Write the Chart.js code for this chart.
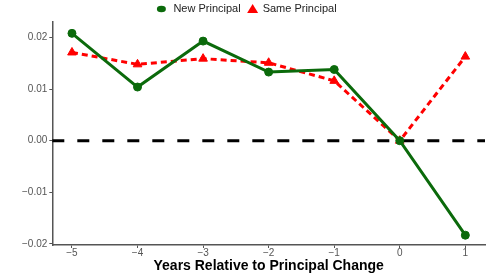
<!DOCTYPE html>
<html>
<head>
<meta charset="utf-8">
<script src="https://cdn.jsdelivr.net/npm/chart.js@4"></script>
<style>
  html, body { margin: 0; padding: 0; background: #fff; }
  #wrap { width: 491px; height: 273px; }
</style>
</head>
<body>
<div id="wrap"><canvas id="chart" width="491" height="273"></canvas></div>
<script>
// data
const years = [-5, -4, -3, -2, -1, 0, 1];
const newPrincipal = [0.0208, 0.0104, 0.0193, 0.0133, 0.0138, 0.0, -0.0183];
const samePrincipal = [0.0171, 0.0148, 0.0159, 0.0151, 0.0116, 0.0, 0.0163];
const xTicks = [-5, -4, -3, -2, -1, 0, 1];
const yTicks = [-0.02, -0.01, 0.0, 0.01, 0.02];

const FONT = 'Liberation Sans, Arial, sans-serif';

const toPoints = (vals) => years.map((x, i) => ({ x: x, y: vals[i] }));
const fmt = (v, d) => {
    const s = Math.abs(v).toFixed(d);
    return v < -1e-9 ? '\u2212' + s : s;
};

// dashed reference line at zero, drawn under the series
const zeroLine = {
    id: 'zeroLine',
    beforeDatasetsDraw(chart) {
        const { ctx, chartArea, scales } = chart;
        const y = scales.y.getPixelForValue(0);
        ctx.save();
        ctx.strokeStyle = '#000';
        ctx.lineWidth = 3;
        ctx.setLineDash([12, 13]);
        ctx.beginPath();
        ctx.moveTo(chartArea.left, y);
        ctx.lineTo(chartArea.right, y);
        ctx.stroke();
        ctx.restore();
    }
};

// small legend on top, laid out like the original
const topLegend = {
    id: 'topLegend',
    afterDraw(chart) {
        const ctx = chart.ctx;
        const sets = chart.data.datasets;
        const y = 9;
        ctx.save();
        ctx.font = '11px ' + FONT;
        ctx.textBaseline = 'middle';
        // each item: marker (10) + gap to text + text, then gap to next item
        const items = sets.map(ds => ({ ds, tw: ctx.measureText(ds.label).width }));
        const total = items.reduce((a, it) => a + 17 + it.tw, 0) + 7;
        let x = chart.width / 2 - total / 2 + 2;
        items.forEach(({ ds, tw }) => {
            const cx = x + 5;
            ctx.fillStyle = ds.backgroundColor;
            ctx.beginPath();
            if (ds.pointStyle === 'triangle') {
                ctx.moveTo(cx, y - 5);
                ctx.lineTo(cx + 5.5, y + 4);
                ctx.lineTo(cx - 5.5, y + 4);
                ctx.closePath();
            } else {
                ctx.ellipse(cx, y, 4.5, 3.3, 0, 0, Math.PI * 2);
            }
            ctx.fill();
            ctx.fillStyle = '#222';
            ctx.fillText(ds.label, x + (ds.pointStyle === 'triangle' ? 15 : 17), y);
            x += 17 + tw + 7;
        });
        ctx.restore();
    }
};

const ctx = document.getElementById('chart').getContext('2d');
new Chart(ctx, {
    type: 'line',
    data: {
        datasets: [{
            label: 'New Principal',
            data: toPoints(newPrincipal),
            borderColor: '#0b6a0b',
            backgroundColor: '#0b6a0b',
            borderWidth: 3,
            pointStyle: 'circle',
            pointRadius: 4,
            pointBorderWidth: 1,
            pointHoverRadius: 4,
            tension: 0
        }, {
            label: 'Same Principal',
            data: toPoints(samePrincipal),
            borderColor: '#ff0000',
            backgroundColor: '#ff0000',
            borderWidth: 3,
            borderDash: [6, 4],
            pointStyle: 'triangle',
            pointRadius: 5,
            pointBorderWidth: 1,
            pointHoverRadius: 5,
            tension: 0
        }]
    },
    options: {
        responsive: false,
        animation: false,
        layout: { padding: { left: 20, right: 1, top: 22, bottom: 0 } },
        plugins: {
            legend: { display: false },
            tooltip: { enabled: false }
        },
        scales: {
            x: {
                type: 'linear',
                min: -5.3,
                max: 1.3,
                afterBuildTicks: (axis) => { axis.ticks = xTicks.map(v => ({ value: v })); },
                grid: { drawOnChartArea: false, color: '#555', tickLength: 3 },
                border: { color: '#555', width: 1.5 },
                ticks: {
                    color: '#555',
                    padding: 0,
                    maxRotation: 0,
                    font: { family: FONT, size: 10, lineHeight: 1 },
                    callback: (v) => fmt(v, 0)
                },
                title: {
                    display: true,
                    text: 'Years Relative to Principal Change',
                    color: '#000',
                    padding: { top: 1, bottom: 0 },
                    font: { family: FONT, size: 14, weight: 'bold', lineHeight: 1 }
                }
            },
            y: {
                min: -0.0202,
                max: 0.023,
                afterBuildTicks: (axis) => { axis.ticks = yTicks.map(v => ({ value: v })); },
                grid: { drawOnChartArea: false, color: '#555', tickLength: 3 },
                border: { color: '#555', width: 1.5 },
                ticks: {
                    color: '#555',
                    padding: 2,
                    font: { family: FONT, size: 10 },
                    callback: (v) => fmt(v, 2)
                }
            }
        }
    },
    plugins: [zeroLine, topLegend]
});
</script>
</body>
</html>
